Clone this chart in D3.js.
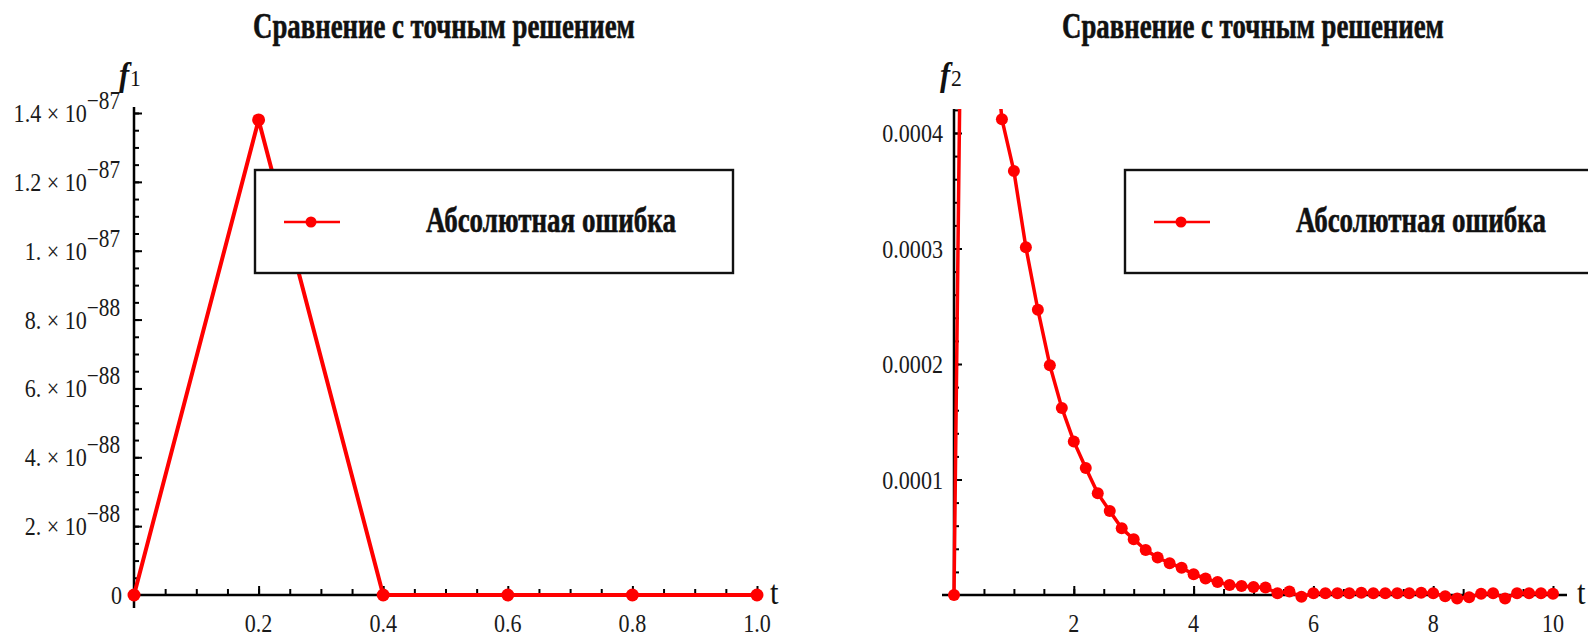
<!DOCTYPE html>
<html><head><meta charset="utf-8">
<script src="https://cdn.jsdelivr.net/npm/d3@7"></script>
<style>body{margin:0;background:#fff;} svg{display:block;}</style>
</head><body><svg id="c" width="1588" height="636"></svg>
<script>
const titleText = "Сравнение с точным решением";
const legendText = "Абсолютная ошибка";

const leftT = [0, 0.2, 0.4, 0.6, 0.8, 1.0];
const leftErr = [0, 1.38e-87, 0, 0, 0, 0];
const leftXTicks = [0.2, 0.4, 0.6, 0.8, 1.0];
const leftXTickLabels = ["0.2", "0.4", "0.6", "0.8", "1.0"];
const leftYTicks = [0, 2e-88, 4e-88, 6e-88, 8e-88, 1e-87, 1.2e-87, 1.4e-87];
const leftYMantissa = ["0", "2.", "4.", "6.", "8.", "1.", "1.2", "1.4"];
const leftYExponent = ["", "−88", "−88", "−88", "−88", "−87", "−87", "−87"];

const rightT = [0, 0.2, 0.4, 0.6, 0.8, 1.0, 1.2, 1.4, 1.6, 1.8, 2.0, 2.2, 2.4, 2.6, 2.8, 3.0, 3.2, 3.4, 3.6, 3.8,
  4.0, 4.2, 4.4, 4.6, 4.8, 5.0, 5.2, 5.4, 5.6, 5.8, 6.0, 6.2, 6.4, 6.6, 6.8, 7.0, 7.2, 7.4, 7.6, 7.8,
  8.0, 8.2, 8.4, 8.6, 8.8, 9.0, 9.2, 9.4, 9.6, 9.8, 10.0];
const rightErr = [0, 0.0009, 0.0007, 0.00052, 0.000412, 0.000367, 0.000301, 0.000247, 0.000199, 0.000162,
  0.000133, 0.000110, 0.000088, 0.0000727, 0.0000577, 0.0000482, 0.000039, 0.0000325, 0.0000275, 0.0000235,
  0.000018, 0.0000142, 0.0000112, 0.0000087, 0.0000078, 0.000007, 0.0000065, 0.0000015, 0.000003, -0.0000015,
  0.0000015, 0.0000015, 0.0000015, 0.0000015, 0.000002, 0.0000015, 0.0000015, 0.0000015, 0.0000015, 0.000002,
  0.0000015, -0.000001, -0.000003, -0.000002, 0.000001, 0.0000015, -0.000003, 0.0000015, 0.0000015, 0.0000015, 0.000001];
const rightXTicks = [2, 4, 6, 8, 10];
const rightXTickLabels = ["2", "4", "6", "8", "10"];
const rightYTicks = [0.0001, 0.0002, 0.0003, 0.0004];
const rightYTickLabels = ["0.0001", "0.0002", "0.0003", "0.0004"];

const RED = "#ff0000";
const SERIF = "'Liberation Serif','Times New Roman',serif";
const NUMSX = 0.85;
const svg = d3.select("#c");

function fitText(g, str, x, baseline, width, size, anchor) {
  const t = g.append("text").text(str)
    .attr("font-family", SERIF).attr("font-weight", "bold").attr("font-size", size)
    .attr("fill", "#111").attr("stroke", "#111").attr("stroke-width", 0.6).attr("text-anchor", anchor);
  const w = t.node().getComputedTextLength();
  t.attr("transform", `translate(${x},${baseline}) scale(${width / w},1)`);
  return t;
}

function numLabel(g, x, y, str, anchor) {
  return g.append("text").attr("transform", `translate(${x},${y}) scale(${NUMSX},1)`)
    .attr("font-family", SERIF).attr("font-size", 26).attr("fill", "#1a1a1a")
    .attr("text-anchor", anchor).text(str);
}

function panel(cfg) {
  const g = svg.append("g");
  const x = d3.scaleLinear().domain(cfg.xDomain).range(cfg.xRange);
  const y = d3.scaleLinear().domain(cfg.yDomain).range(cfg.yRange);

  const xMajor = d3.axisBottom(x).tickValues(cfg.xTicks).tickSize(-9).tickFormat("");
  const xMinor = d3.axisBottom(x).tickValues(cfg.xMinor).tickSize(-6).tickFormat("");
  const yMajor = d3.axisLeft(y).tickValues(cfg.yTicks).tickSize(-8).tickFormat("");
  const yMinor = d3.axisLeft(y).tickValues(cfg.yMinor).tickSize(-5).tickFormat("");
  [xMinor, xMajor].forEach(a => {
    const ag = g.append("g").attr("transform", `translate(0,${y(0)})`).call(a);
    ag.select(".domain").remove();
    ag.selectAll("line").attr("stroke", "#000").attr("stroke-width", 2);
  });
  [yMinor, yMajor].forEach(a => {
    const ag = g.append("g").attr("transform", `translate(${x(0)},0)`).call(a);
    ag.select(".domain").remove();
    ag.selectAll("line").attr("stroke", "#000").attr("stroke-width", 2);
  });
  g.append("line").attr("x1", cfg.xAxisFrom).attr("x2", cfg.xAxisTo)
    .attr("y1", y(0)).attr("y2", y(0)).attr("stroke", "#000").attr("stroke-width", 2.5);
  g.append("line").attr("x1", x(0)).attr("x2", x(0))
    .attr("y1", cfg.yAxisTop).attr("y2", cfg.yAxisBottom).attr("stroke", "#000").attr("stroke-width", 2.5);

  cfg.xTicks.forEach((v, i) => numLabel(g, x(v), 632, cfg.xLabels[i], "middle"));
  cfg.yLabelFn(g, y);

  const fl = g.append("text").attr("transform", `translate(${cfg.fx},86) scale(0.9,1)`)
    .attr("font-family", SERIF).attr("fill", "#111");
  fl.append("tspan").attr("font-style", "italic").attr("font-weight", "bold").attr("font-size", 34).text("f");
  fl.append("tspan").attr("font-size", 24).attr("dx", 1).text(cfg.fsub);
  g.append("text").attr("transform", `translate(${cfg.tx},604) scale(0.9,1)`).attr("font-family", SERIF)
    .attr("font-size", 34).attr("fill", "#111").text("t");

  fitText(g, titleText, cfg.titleX, 38, 382, 36, "middle");

  const clipId = "clip" + cfg.fsub;
  g.append("clipPath").attr("id", clipId).append("rect")
    .attr("x", cfg.xAxisFrom - 10).attr("y", cfg.yAxisTop).attr("width", cfg.xAxisTo - cfg.xAxisFrom + 20)
    .attr("height", cfg.yAxisBottom - cfg.yAxisTop + 10);
  const pts = cfg.t.map((t, i) => [t, cfg.v[i]]);
  const line = d3.line().x(d => x(d[0])).y(d => y(d[1]));
  g.append("path").attr("clip-path", `url(#${clipId})`).attr("d", line(pts))
    .attr("fill", "none").attr("stroke", RED).attr("stroke-width", cfg.lw).attr("stroke-linejoin", "round");
  g.selectAll("circle.pt").data(pts.filter(d => d[1] <= cfg.yVisibleMax)).join("circle")
    .attr("class", "pt").attr("cx", d => x(d[0])).attr("cy", d => y(d[1])).attr("r", cfg.r).attr("fill", RED);

  const lg = g.append("g");
  lg.append("rect").attr("x", cfg.legX).attr("y", 170).attr("width", 478).attr("height", 103)
    .attr("fill", "#fff").attr("stroke", "#111").attr("stroke-width", 2.4);
  lg.append("line").attr("x1", cfg.legX + 29).attr("x2", cfg.legX + 85).attr("y1", 222).attr("y2", 222)
    .attr("stroke", RED).attr("stroke-width", 2.5);
  lg.append("circle").attr("cx", cfg.legX + 56).attr("cy", 222).attr("r", 5.5).attr("fill", RED);
  fitText(lg, legendText, cfg.legX + 171, 232, 250, 36, "start");
}

panel({
  xDomain: [0, 1], xRange: [134, 757],
  yDomain: [0, 1.4e-87], yRange: [595, 113],
  xTicks: leftXTicks, xLabels: leftXTickLabels,
  xMinor: d3.range(0.05, 1.001, 0.05),
  yTicks: leftYTicks.filter(v => v > 0),
  yMinor: d3.range(0.05e-87, 1.41e-87, 0.05e-87),
  xAxisFrom: 134, xAxisTo: 760, yAxisTop: 107, yAxisBottom: 608,
  fx: 119, fsub: "1", tx: 770, titleX: 444,
  t: leftT, v: leftErr, lw: 4, r: 6.5, yVisibleMax: 1.45e-87,
  legX: 255,
  yLabelFn: (g, y) => {
    leftYTicks.forEach((v, i) => {
      const yy = y(v) + 9;
      if (leftYExponent[i] === "") { numLabel(g, 122, yy, leftYMantissa[i], "end"); return; }
      const t = g.append("text").attr("transform", `translate(120,${yy}) scale(${NUMSX},1)`)
        .attr("font-family", SERIF).attr("font-size", 26).attr("fill", "#1a1a1a").attr("text-anchor", "end");
      t.append("tspan").text(leftYMantissa[i] + " × 10");
      t.append("tspan").attr("dy", -13).attr("font-size", 25).text(leftYExponent[i]);
    });
  }
});

panel({
  xDomain: [0, 10], xRange: [954, 1553],
  yDomain: [0, 0.0004], yRange: [595, 133],
  xTicks: rightXTicks, xLabels: rightXTickLabels,
  xMinor: d3.range(0.5, 10.01, 0.5),
  yTicks: rightYTicks,
  yMinor: d3.range(0.00002, 0.000421, 0.00002),
  xAxisFrom: 942, xAxisTo: 1567, yAxisTop: 109, yAxisBottom: 600,
  fx: 940, fsub: "2", tx: 1577, titleX: 1253,
  t: rightT, v: rightErr, lw: 3.5, r: 6, yVisibleMax: 0.00042,
  legX: 1125,
  yLabelFn: (g, y) => {
    rightYTicks.forEach((v, i) => numLabel(g, 943, y(v) + 9, rightYTickLabels[i], "end"));
  }
});
</script></body></html>
